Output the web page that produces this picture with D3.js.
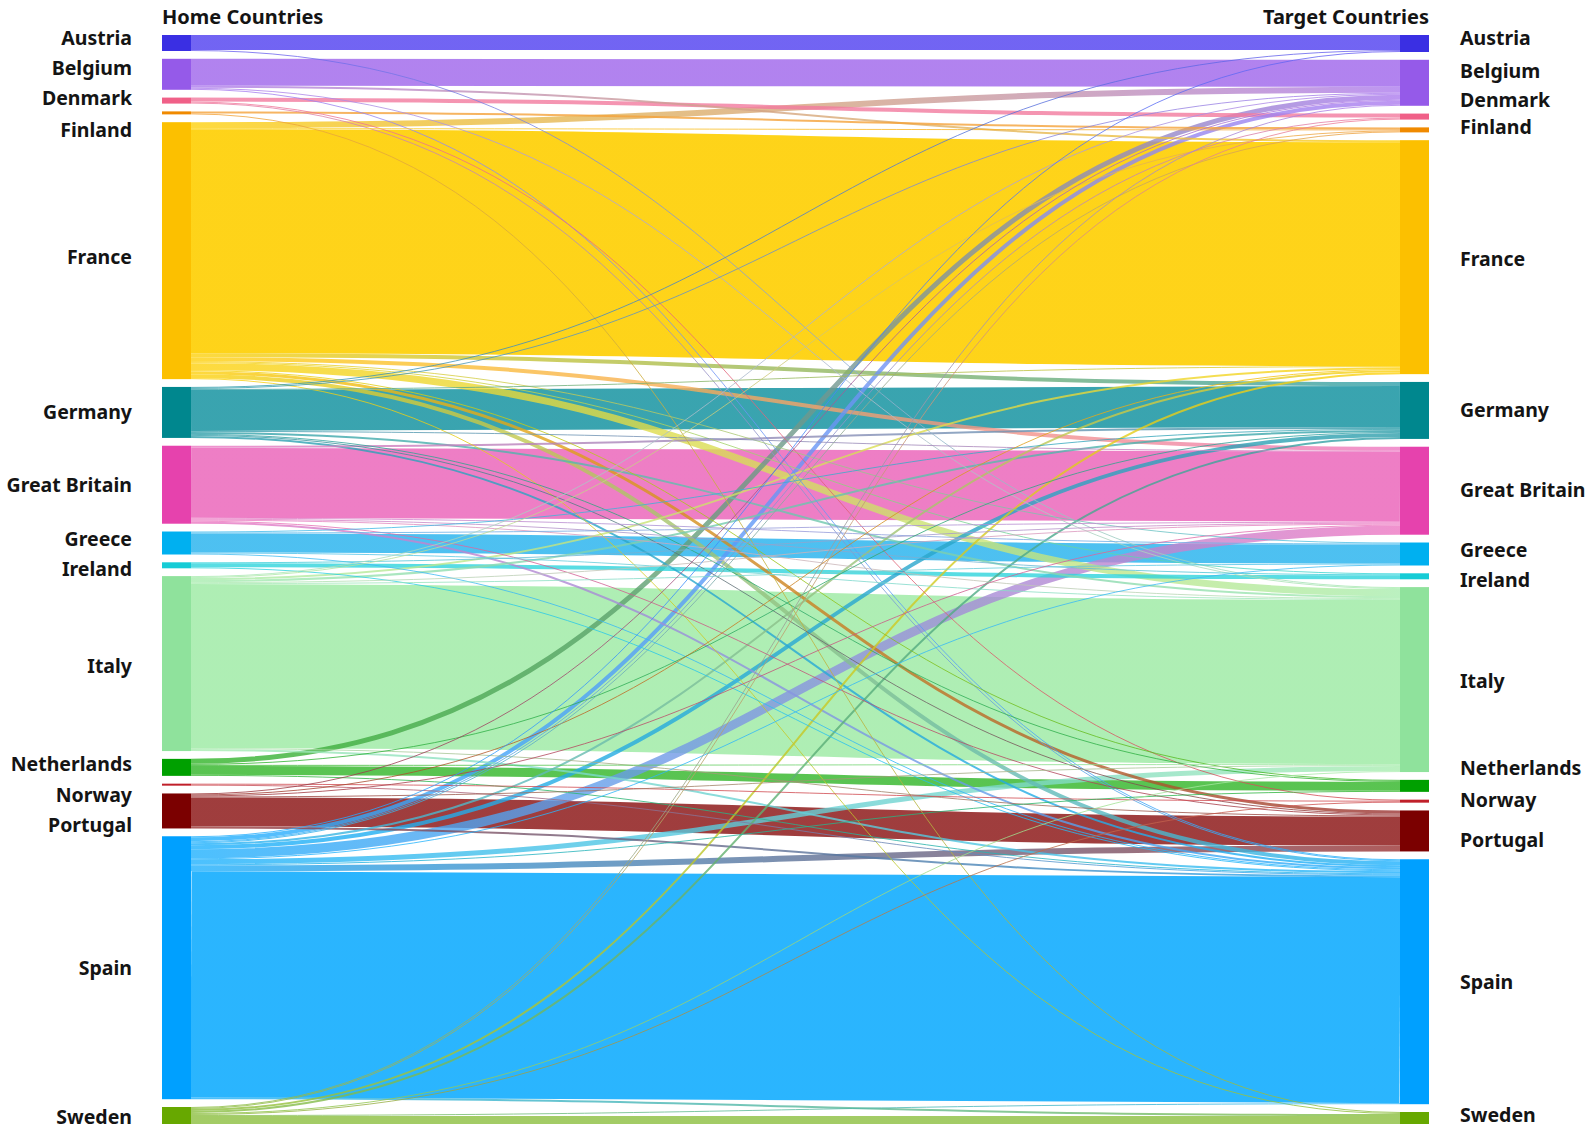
<!DOCTYPE html>
<html>
<head>
<meta charset="utf-8">
<script src="https://cdn.jsdelivr.net/npm/d3@7"></script>
<style>
    body { margin: 0; background: #fff; }
    text { font-family: "Noto Sans", sans-serif; font-weight: 700; fill: #141414; }
</style>
</head>
<body>
<div id="chart"></div>
<script>
// Countries, in the order they are stacked on both sides
var countries = ["Austria", "Belgium", "Denmark", "Finland", "France", "Germany", "Great Britain",
    "Greece", "Ireland", "Italy", "Netherlands", "Norway", "Portugal", "Spain", "Sweden"];

// Flows: home country -> target country
var flowFrom = [
    "Austria", "Austria",
    "Belgium", "Belgium", "Belgium", "Belgium",
    "Denmark", "Denmark", "Denmark",
    "Finland", "Finland",
    "France", "France", "France", "France", "France", "France", "France", "France", "France", "France", "France", "France",
    "Germany", "Germany", "Germany", "Germany", "Germany", "Germany", "Germany", "Germany", "Germany",
    "Great Britain", "Great Britain", "Great Britain", "Great Britain", "Great Britain", "Great Britain", "Great Britain",
    "Greece", "Greece", "Greece", "Greece", "Greece",
    "Ireland", "Ireland", "Ireland",
    "Italy", "Italy", "Italy", "Italy", "Italy", "Italy", "Italy", "Italy", "Italy",
    "Netherlands", "Netherlands", "Netherlands", "Netherlands", "Netherlands",
    "Norway", "Norway",
    "Portugal", "Portugal", "Portugal", "Portugal", "Portugal", "Portugal",
    "Spain", "Spain", "Spain", "Spain", "Spain", "Spain", "Spain", "Spain", "Spain", "Spain", "Spain", "Spain", "Spain",
    "Sweden", "Sweden", "Sweden", "Sweden", "Sweden", "Sweden", "Sweden", "Sweden"
];
var flowTo = [
    "Austria", "Italy",
    "Belgium", "France", "Italy", "Spain",
    "Denmark", "Norway", "Spain",
    "Finland", "Sweden",
    "France", "Belgium", "Finland", "Germany", "Great Britain", "Greece", "Ireland", "Italy", "Netherlands", "Portugal", "Spain", "Sweden",
    "Germany", "Austria", "Belgium", "France", "Great Britain", "Italy", "Netherlands", "Portugal", "Spain",
    "Great Britain", "Germany", "Greece", "Ireland", "Italy", "Portugal", "Spain",
    "Greece", "Germany", "Great Britain", "Italy", "Spain",
    "Ireland", "Great Britain", "Spain",
    "Italy", "Belgium", "Finland", "France", "Germany", "Great Britain", "Greece", "Portugal", "Spain",
    "Netherlands", "Belgium", "Germany", "Italy", "Spain",
    "Norway", "Spain",
    "Portugal", "Belgium", "France", "Great Britain", "Italy", "Spain",
    "Spain", "Austria", "Belgium", "Denmark", "Finland", "France", "Germany", "Great Britain", "Greece", "Italy", "Netherlands", "Portugal", "Sweden",
    "Sweden", "Belgium", "Denmark", "France", "Germany", "Italy", "Norway", "Spain"
];
var flowValue = [
    15, 1,
    27, 2, 1, 1,
    4, 1, 1,
    2, 1,
    224, 6, 1, 4, 4, 1, 1, 7, 1, 3, 4, 1,
    41, 1, 1, 1, 1, 2, 1, 1, 2,
    70, 2, 1, 1, 1, 1, 2,
    19, 1, 1, 1, 1,
    4, 1, 1,
    164, 1, 1, 2, 2, 1, 1, 1, 2,
    9, 5, 1, 1, 1,
    1, 1,
    29, 1, 1, 1, 1, 2,
    226, 1, 4, 1, 1, 2, 4, 9, 1, 5, 1, 6, 2,
    8, 1, 1, 2, 2, 1, 1, 1
];

// Colours
var nodeColor = {
    "Austria": "#3a2fe3", "Belgium": "#955ae9", "Denmark": "#f06088", "Finland": "#f08a00",
    "France": "#fcc000", "Germany": "#00878e", "Great Britain": "#e642ad", "Greece": "#00b0f0",
    "Ireland": "#16ccd6", "Italy": "#8fe29c", "Netherlands": "#00a000", "Norway": "#c0202a",
    "Portugal": "#7b0000", "Spain": "#00a0ff", "Sweden": "#67a800"
};
var linkColor = {
    "Austria": "#6a5cf2", "Belgium": "#ad7cee", "Denmark": "#f27a9e", "Finland": "#f4a23a",
    "France": "#fed10d", "Germany": "#2f9fab", "Great Britain": "#ed77c2", "Greece": "#44bdf0",
    "Ireland": "#2fd4dc", "Italy": "#aaedb0", "Netherlands": "#30b526", "Norway": "#d04a50",
    "Portugal": "#9a3333", "Spain": "#1fb1fe", "Sweden": "#8cbf3f"
};

// Layout
var svgWidth = 1594;
var svgHeight = 1130;
var nodeTop = 35, nodeBottom = 1124, nodePad = 7.8;
var leftX = 162, rightX = 1400, nodeWidth = 29;
var linkOpacity = 0.95;

// manual label nudges (labels in the original were placed by hand)
var labelNudge = {
    left: { "Finland": 2, "France": 7, "Italy": 3, "Netherlands": 7, "Norway": 8, "Portugal": 8, "Sweden": 2 },
    right: { "Austria": -5, "Belgium": -9, "Denmark": -10, "Finland": -13, "France": 2, "Great Britain": -1,
             "Italy": 2, "Netherlands": -8, "Norway": -6, "Portugal": 4, "Sweden": -3 }
};

var svg = d3.select("#chart")
    .append("svg")
    .attr("width", svgWidth)
    .attr("height", svgHeight);

// build links
var links = flowFrom.map(function(f, i) {
    return { source: f, target: flowTo[i], value: flowValue[i] };
});

// node totals
var outTotal = {}, inTotal = {};
countries.forEach(function(c) { outTotal[c] = 0; inTotal[c] = 0; });
links.forEach(function(l) {
    outTotal[l.source] += l.value;
    inTotal[l.target] += l.value;
});

var maxTotal = Math.max(d3.sum(countries, c => outTotal[c]), d3.sum(countries, c => inTotal[c]));
var ky = d3.scaleLinear()
    .domain([0, maxTotal])
    .range([0, (nodeBottom - nodeTop) - nodePad * (countries.length - 1)]);

function stackNodes(totals, x) {
    var y = nodeTop;
    return countries.map(function(c, i) {
        var h = ky(totals[c]);
        var n = { name: c, index: i, x0: x, x1: x + nodeWidth, y0: y, y1: y + h };
        y += h + nodePad;
        return n;
    });
}

var leftNodes = stackNodes(outTotal, leftX);
var rightNodes = stackNodes(inTotal, rightX);
var idx = {};
countries.forEach(function(c, i) { idx[c] = i; });

// link offsets, sorted by the other end like d3-sankey
countries.forEach(function(c, i) {
    var y = leftNodes[i].y0;
    links.filter(l => l.source === c)
        .sort((a, b) => idx[a.target] - idx[b.target])
        .forEach(function(l) {
            l.width = ky(l.value);
            l.ys = y + l.width / 2;
            y += l.width;
        });
    y = rightNodes[i].y0;
    links.filter(l => l.target === c)
        .sort((a, b) => idx[a.source] - idx[b.source])
        .forEach(function(l) {
            l.yt = y + ky(l.value) / 2;
            y += ky(l.value);
        });
});

var linkPath = d3.linkHorizontal();
var defs = svg.append("defs");

// wide bands first, thin links on top
var drawOrder = links.slice().sort((a, b) => b.value - a.value);

drawOrder.forEach(function(l, i) {
    var grad = defs.append("linearGradient")
        .attr("id", "grad" + i)
        .attr("gradientUnits", "userSpaceOnUse")
        .attr("x1", leftX + nodeWidth)
        .attr("x2", rightX)
        .attr("y1", 0).attr("y2", 0);
    grad.append("stop").attr("offset", "0%").attr("stop-color", linkColor[l.source]);
    grad.append("stop").attr("offset", "100%").attr("stop-color", linkColor[l.target]);
    l.grad = "url(#grad" + i + ")";
});

svg.append("g")
    .attr("fill", "none")
    .selectAll("path")
    .data(drawOrder)
    .enter()
    .append("path")
    .attr("d", d => linkPath({ source: [leftX + nodeWidth, d.ys], target: [rightX, d.yt] }))
    .attr("stroke", d => d.grad)
    .attr("stroke-opacity", d => d.value > 10 ? linkOpacity : 0.8)
    .attr("stroke-width", d => Math.max(0.8, d.width));

// nodes
svg.append("g")
    .selectAll("rect")
    .data(leftNodes.concat(rightNodes))
    .enter()
    .append("rect")
    .attr("x", d => d.x0)
    .attr("y", d => d.y0)
    .attr("width", d => d.x1 - d.x0)
    .attr("height", d => Math.max(1.5, d.y1 - d.y0))
    .attr("fill", d => nodeColor[d.name]);

// spread labels that would collide, centred on their cluster
function placeLabels(nodes, minGap) {
    var clusters = nodes.map(n => ({ items: [n], mean: (n.y0 + n.y1) / 2 }));
    var merged = true;
    while (merged) {
        merged = false;
        for (var i = 0; i < clusters.length - 1; i++) {
            var a = clusters[i], b = clusters[i + 1];
            var aBottom = a.mean + (a.items.length - 1) * minGap / 2;
            var bTop = b.mean - (b.items.length - 1) * minGap / 2;
            if (bTop - aBottom < minGap) {
                var items = a.items.concat(b.items);
                clusters.splice(i, 2, { items: items, mean: d3.mean(items, n => (n.y0 + n.y1) / 2) });
                merged = true;
                break;
            }
        }
    }
    clusters.forEach(function(c) {
        c.items.forEach(function(n, k) {
            n.ly = c.mean + (k - (c.items.length - 1) / 2) * minGap;
        });
    });
}
placeLabels(leftNodes, 30);
placeLabels(rightNodes, 30);

svg.append("g")
    .selectAll("text")
    .data(leftNodes)
    .enter()
    .append("text")
    .attr("x", 132)
    .attr("y", d => d.ly + (labelNudge.left[d.name] || 0))
    .attr("dy", "0.35em")
    .attr("text-anchor", "end")
    .style("font-size", "19.5px")
    .text(d => d.name);

svg.append("g")
    .selectAll("text")
    .data(rightNodes)
    .enter()
    .append("text")
    .attr("x", 1460)
    .attr("y", d => d.ly + (labelNudge.right[d.name] || 0))
    .attr("dy", "0.35em")
    .attr("text-anchor", "start")
    .style("font-size", "19.5px")
    .text(d => d.name);

// column headers
svg.append("text")
    .attr("x", leftX)
    .attr("y", 24)
    .style("font-size", "20px")
    .text("Home Countries");

svg.append("text")
    .attr("x", rightX + nodeWidth)
    .attr("y", 24)
    .attr("text-anchor", "end")
    .style("font-size", "20px")
    .text("Target Countries");
</script>
</body>
</html>
